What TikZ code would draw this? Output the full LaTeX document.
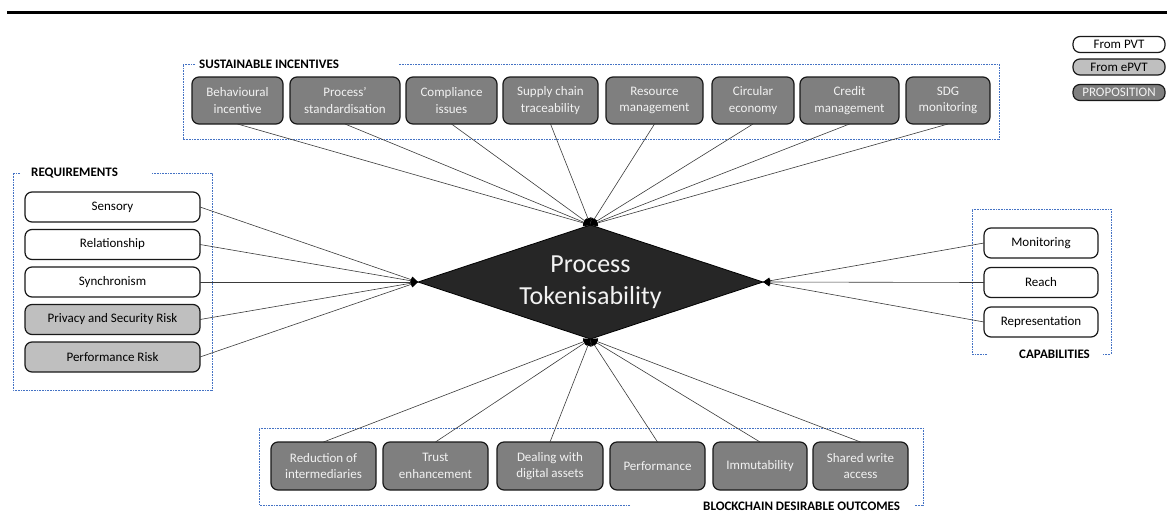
\documentclass[tikz,border=0pt]{standalone}
\usepackage{fontspec}
\setmainfont{Carlito}
\usetikzlibrary{shapes.geometric,arrows.meta}
\definecolor{propfill}{HTML}{7F7F7F}
\definecolor{epvtfill}{HTML}{BFBFBF}
\definecolor{hubfill}{HTML}{262626}
\definecolor{grpblue}{HTML}{4472C4}
\definecolor{linkcol}{HTML}{3A3A3A}
\definecolor{lighttext}{HTML}{F2F2F2}
\newcommand{\lblfont}{\fontsize{13}{16.5}\selectfont}
\newcommand{\hubfont}{\fontsize{26}{32}\selectfont}

\begin{document}
\begin{tikzpicture}[x=1pt,y=-1pt,
  box/.style={draw=black!90, line width=1.2pt, rounded corners=7pt, align=center,
              inner sep=0pt, outer sep=0pt, font=\lblfont},
  pvt/.style={box, fill=white, text=black},
  epvt/.style={box, fill=epvtfill, text=black},
  prop/.style={box, fill=propfill, text=lighttext},
  hub/.style={diamond, aspect=3.03, draw=black, line width=0.8pt, fill=hubfill,
              text=lighttext, inner sep=0pt, outer sep=0pt, minimum width=345pt,
              minimum height=114pt, align=center, font=\hubfont},
  link/.style={draw=linkcol, line width=0.6pt,
               -{Triangle[length=7pt,width=6.5pt,color=black]}},
  grp/.style={draw=grpblue, line width=0.8pt, dash pattern=on 0.8pt off 0.8pt},
  grptitle/.style={font=\lblfont\bfseries, anchor=west, inner sep=0pt, text=black},
]
\path[use as bounding box] (0,0) rectangle (1167,517);

% heading rule
\draw[line width=3pt] (7,12.5) -- (1167,12.5);

% central proposition
\node[hub] (hub) at (590.5,282) {Process\\Tokenisability};

% sustainable incentives
\node[prop, minimum width=91pt,  minimum height=47pt] (si1) at (237.5,100.5) {Behavioural\\incentive};
\node[prop, minimum width=110pt, minimum height=47pt] (si2) at (345,100.5)   {Process’\\standardisation};
\node[prop, minimum width=91pt,  minimum height=47pt] (si3) at (451.5,100.5) {Compliance\\issues};
\node[prop, minimum width=95pt,  minimum height=47pt] (si4) at (550.5,100.5) {Supply chain\\traceability};
\node[prop, minimum width=97pt,  minimum height=47pt] (si5) at (654.5,100.5) {Resource\\management};
\node[prop, minimum width=82pt,  minimum height=47pt] (si6) at (753,100.5)   {Circular\\economy};
\node[prop, minimum width=99pt,  minimum height=47pt] (si7) at (849.5,100.5) {Credit\\management};
\node[prop, minimum width=84pt,  minimum height=47pt] (si8) at (948,100.5)   {SDG\\monitoring};
\node[grptitle] (tsi) at (199,64) {SUSTAINABLE INCENTIVES};
\draw[grp] (195,64) -- (183,64) -- (183,139) -- (999,139) -- (999,64) -- (399,64);

% requirements
\node[pvt,  minimum width=175pt, minimum height=30pt] (rq1) at (112.5,207)   {Sensory};
\node[pvt,  minimum width=175pt, minimum height=30pt] (rq2) at (112.5,244.5) {Relationship};
\node[pvt,  minimum width=175pt, minimum height=30pt] (rq3) at (112.5,282)   {Synchronism};
\node[epvt, minimum width=175pt, minimum height=30pt] (rq4) at (112.5,319.5) {Privacy and Security Risk};
\node[epvt, minimum width=175pt, minimum height=30pt] (rq5) at (112.5,357)   {Performance Risk};
\node[grptitle] (trq) at (31,173) {REQUIREMENTS};
\draw[grp] (20,173) -- (13,173) -- (13,390) -- (212,390) -- (212,173) -- (152,173);

% capabilities
\node[pvt, minimum width=114pt, minimum height=30pt] (cp1) at (1041,243)   {Monitoring};
\node[pvt, minimum width=114pt, minimum height=30pt] (cp2) at (1041,282.5) {Reach};
\node[pvt, minimum width=114pt, minimum height=30pt] (cp3) at (1041,322)   {Representation};
\node[grptitle] (tcp) at (1019,354) {CAPABILITIES};
\draw[grp] (987,354) -- (972,354) -- (972,209) -- (1111,209) -- (1111,354) -- (1103,354);

% blockchain desirable outcomes
\node[prop, minimum width=105pt, minimum height=48pt] (bo1) at (323.5,466) {Reduction of\\intermediaries};
\node[prop, minimum width=105pt, minimum height=48pt] (bo2) at (435.5,466) {Trust\\enhancement};
\node[prop, minimum width=106pt, minimum height=48pt] (bo3) at (550,466)   {Dealing with\\digital assets};
\node[prop, minimum width=95pt,  minimum height=48pt] (bo4) at (657.5,466) {Performance};
\node[prop, minimum width=94pt,  minimum height=48pt] (bo5) at (760,466)   {Immutability};
\node[prop, minimum width=95pt,  minimum height=48pt] (bo6) at (860.5,466) {Shared write\\access};
\node[grptitle] (tbo) at (703,506) {BLOCKCHAIN DESIRABLE OUTCOMES};
\draw[grp] (630,505) -- (259,505) -- (259,428) -- (923,428) -- (923,505) -- (915,505);

% legend
\node[pvt,  minimum width=92pt, minimum height=16pt] (lg1) at (1119,44.5) {From PVT};
\node[epvt, minimum width=92pt, minimum height=16pt] (lg2) at (1119,67)   {From ePVT};
\node[prop, minimum width=92pt, minimum height=16pt] (lg3) at (1119,92.5) {PROPOSITION};

% connectors into the proposition
\foreach \i in {1,...,8} \draw[link] (si\i.south) -- (hub.north);
\foreach \i in {1,...,5} \draw[link] (rq\i.east) -- (hub.west);
\foreach \i in {1,...,3} \draw[link] (cp\i.west) -- (hub.east);
\foreach \i in {1,...,6} \draw[link] (bo\i.north) -- (hub.south);
\end{tikzpicture}
\end{document}
